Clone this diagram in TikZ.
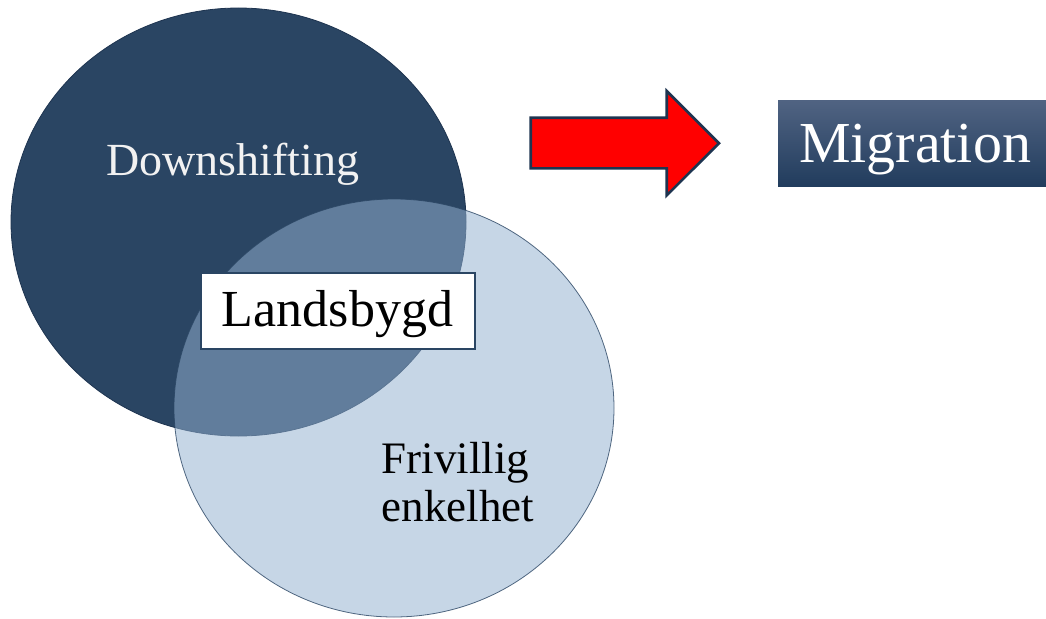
\documentclass[tikz,border=0pt]{standalone}
\usepackage{fontspec}
\setmainfont{Liberation Serif}
\definecolor{navy}{RGB}{42,69,99}
\definecolor{navyline}{RGB}{30,52,80}
\definecolor{lightblue}{RGB}{147,177,208}
\definecolor{boxtop}{RGB}{80,99,130}
\definecolor{boxmid}{RGB}{38,64,96}
\definecolor{boxbot}{RGB}{33,60,93}
\definecolor{offwhite}{RGB}{242,242,242}
\tikzset{
  darkset/.style={fill=navy, draw=navyline, line width=0.8pt},
  lightset/.style={fill=lightblue, fill opacity=0.525, draw=navy, draw opacity=0.8, line width=0.8pt},
  labelbox/.style={fill=white, draw=navy, line width=1.5pt},
  bigarrow/.style={fill=red, draw=navyline, line width=2.6pt, line join=miter},
  migbox/.style={shading=axis, top color=boxtop, middle color=boxmid, bottom color=boxbot, draw=none},
  txt/.style={inner sep=0pt, anchor=base}
}
\begin{document}
\begin{tikzpicture}[x=1pt,y=-1pt]
\useasboundingbox (0,0) rectangle (1046,618);
% sets
\draw[darkset] (238.5,222) ellipse [x radius=227.5, y radius=214];
\draw[lightset] (394,408) ellipse [x radius=220, y radius=209];
\node[txt, text=offwhite, font=\fontsize{46}{54}\selectfont] (down) at (232.5,175) {Downshifting};
\node[txt, anchor=base west, font=\fontsize{45}{48}\selectfont] (friv1) at (381.7,473.3) {Frivillig};
\node[txt, anchor=base west, font=\fontsize{45}{48}\selectfont] (friv2) at (381.7,521.7) {enkelhet};
% intersection label
\draw[labelbox] (201,273) rectangle (475,349);
\node[txt, font=\fontsize{52}{60}\selectfont] (land) at (337.5,326.7) {Landsbygd};
% arrow
\draw[bigarrow] (530.7,117.7) -- (666.7,117.7) -- (666.7,91) -- (719,143.2) -- (666.7,195.4) -- (666.7,168.3) -- (530.7,168.3) -- cycle;
% migration box
\shade[migbox] (778,100.7) rectangle (1046,186.7);
\node[txt, text=white, font=\fontsize{58}{66}\selectfont] (mig) at (915,162.7) {Migration};
\end{tikzpicture}
\end{document}
